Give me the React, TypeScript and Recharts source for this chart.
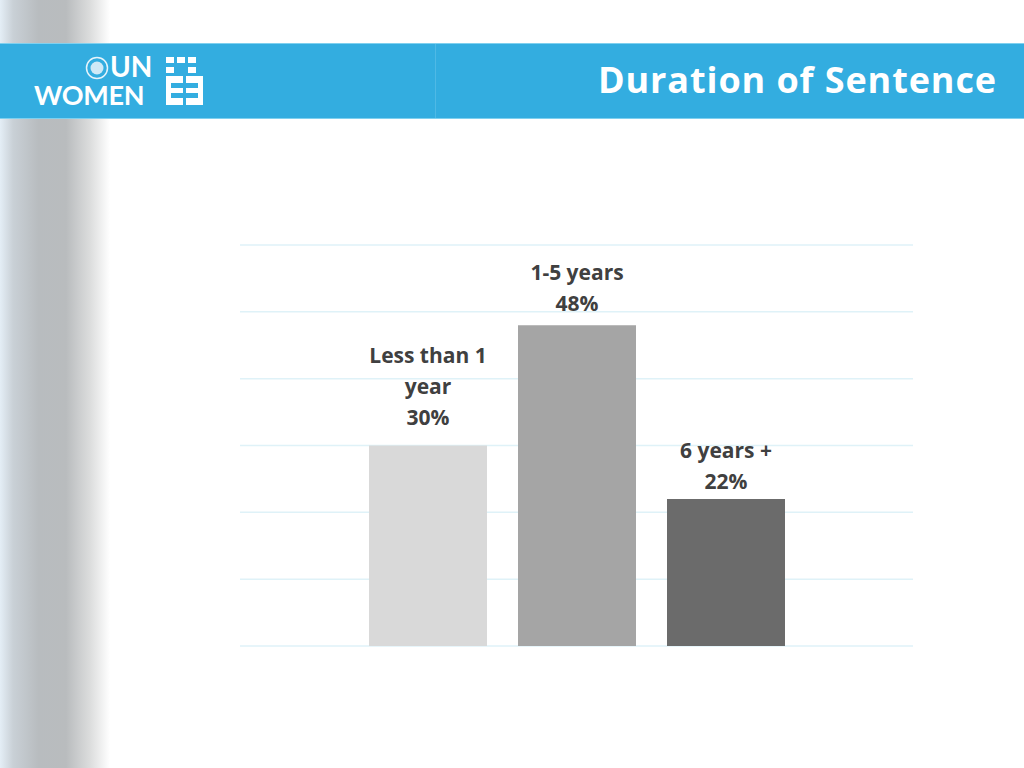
import React from 'react';
import { BarChart, Bar, XAxis, YAxis, CartesianGrid, LabelList } from 'recharts';

// one category, three series (Excel-style clustered bars)
const seriesKeys = ['lessThan1', 'oneToFive', 'sixPlus'];
const seriesValues = [30, 48, 22];
const seriesLabelLines = [['Less than 1', 'year'], ['1-5 years'], ['6 years +']];
const seriesColors = ['#d9d9d9', '#a5a5a5', '#6b6b6b'];
const labelGaps = [21, 14, 10];
const yTicks = [0, 10, 20, 30, 40, 50, 60];

const data = [
  seriesKeys.reduce<Record<string, number | string>>(
    (row, key, i) => {
      row[key] = seriesValues[i];
      return row;
    },
    { name: 'Duration' }
  ),
];

const FONT = '"Open Sans", Lato, sans-serif';

const makeLabel = (lines: string[], gap: number) => (props: any) => {
  const { x, y, width, value } = props;
  const cx = Number(x) + Number(width) / 2;
  const all = [...lines, `${value}%`];
  const lineH = 31;
  const baseY = Number(y) - gap;
  return (
    <text
      x={cx}
      textAnchor="middle"
      fontFamily={FONT}
      fontWeight={700}
      fontSize={21}
      fill="#404040"
    >
      {all.map((l, i) => (
        <tspan key={i} x={cx} y={baseY - (all.length - 1 - i) * lineH}>
          {l}
        </tspan>
      ))}
    </text>
  );
};

const Logo: React.FC = () => (
  <svg width={220} height={76} style={{ position: 'absolute', left: 0, top: 43 }}>
    <circle cx={97} cy={25} r={10.5} fill="none" stroke="#e6f4fb" strokeWidth={1.5} />
    <circle cx={97} cy={25} r={6.5} fill="#cfe9f6" />
    <text fontFamily="Lato, sans-serif" fontWeight={700} fill="#fff">
      <tspan x={110} y={34} fontSize={28}>UN</tspan>
      <tspan x={34} y={62} fontSize={27} letterSpacing={-0.3}>WOMEN</tspan>
    </text>
    {/* stylised emblem */}
    <rect x={166} y={14} width={8} height={6} fill="#fff" />
    <rect x={177} y={14} width={8} height={6} fill="#fff" />
    <rect x={188} y={14} width={8} height={6} fill="#fff" />
    <rect x={166} y={24} width={8} height={6} fill="#fff" />
    <rect x={188} y={24} width={8} height={6} fill="#fff" />
    <rect x={166} y={33} width={17} height={29} fill="#fff" />
    <rect x={186} y={33} width={17} height={29} fill="#fff" />
    <rect x={171} y={40} width={12} height={5} fill="#33ade0" />
    <rect x={171} y={50} width={12} height={5} fill="#33ade0" />
    <rect x={186} y={40} width={12} height={5} fill="#33ade0" />
    <rect x={186} y={50} width={12} height={5} fill="#33ade0" />
  </svg>
);

const App: React.FC = () => {
  return (
    <div
      style={{
        position: 'fixed',
        left: 0,
        top: 0,
        width: 1024,
        height: 768,
        background: '#fff',
        overflow: 'hidden',
      }}
    >
      {/* grey side strip */}
      <div
        style={{
          position: 'absolute',
          left: 0,
          top: 0,
          width: 110,
          height: 768,
          background:
            'linear-gradient(to right, #e4eef6 0%, #c9d0d6 12%, #b8bcbf 35%, #b9bcbe 60%, #dcdddd 82%, #ffffff 100%)',
        }}
      />
      {/* header band */}
      <div
        style={{
          position: 'absolute',
          left: 0,
          top: 43,
          width: 1024,
          height: 76,
          background: '#33ade0',
          borderTop: '1px solid #7fd0ef',
          borderBottom: '1px solid #7fd0ef',
          boxSizing: 'border-box',
        }}
      />
      <div
        style={{
          position: 'absolute',
          left: 435,
          top: 44,
          width: 1,
          height: 74,
          background: '#4fb9e5',
        }}
      />
      <Logo />
      <div
        style={{
          position: 'absolute',
          left: 598,
          top: 57,
          fontFamily: FONT,
          fontWeight: 700,
          fontSize: 36,
          letterSpacing: 0.9,
          color: '#fff',
          lineHeight: '46px',
          whiteSpace: 'nowrap',
        }}
      >
        Duration of Sentence
      </div>

      <div style={{ position: 'absolute', left: 0, top: 0 }}>
        <BarChart
          width={1024}
          height={768}
          data={data}
          margin={{ top: 245, right: 111, bottom: 122, left: 240 }}
          barSize={118}
          barGap={31}
        >
          <CartesianGrid horizontal vertical={false} stroke="#dff2f8" strokeWidth={1.5} />
          <XAxis dataKey="name" hide />
          <YAxis domain={[0, 60]} ticks={yTicks} hide />
          {seriesKeys.map((key, i) => (
            <Bar key={key} dataKey={key} fill={seriesColors[i]} isAnimationActive={false}>
              <LabelList dataKey={key} content={makeLabel(seriesLabelLines[i], labelGaps[i])} />
            </Bar>
          ))}
        </BarChart>
      </div>
    </div>
  );
};

export default App;
